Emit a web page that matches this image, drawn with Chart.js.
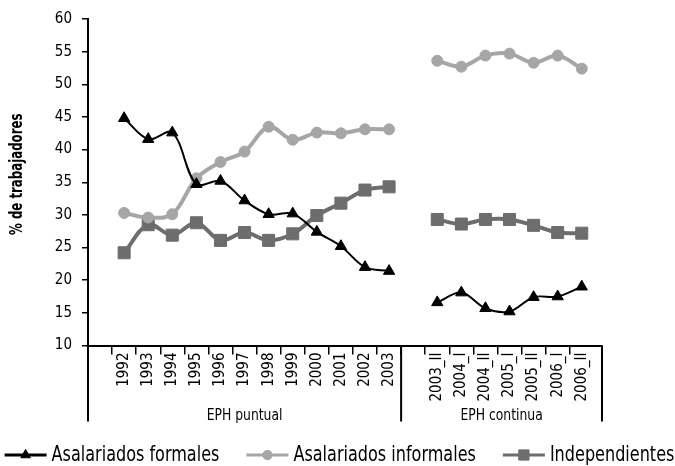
<!DOCTYPE html>
<html>
<head>
<meta charset="utf-8">
<script src="https://cdn.jsdelivr.net/npm/chart.js@4/dist/chart.umd.min.js"></script>
<style>
    html, body { margin: 0; padding: 0; background: #fff; }
    #wrap { width: 675px; height: 466px; }
</style>
</head>
<body>
<div id="wrap"><canvas id="trabajadoresChart"></canvas></div>
<script>
// Categories (blank entries are the gaps at the start of each survey group)
const categories = ['', '1992', '1993', '1994', '1995', '1996', '1997', '1998', '1999', '2000', '2001', '2002', '2003',
    '', '2003_II', '2004_I', '2004_II', '2005_I', '2005_II', '2006_I', '2006_II'];

// Survey groups shown under the axis, and how many categories each one spans
const groupLabels = ['EPH puntual', 'EPH continua'];
const groupSizes = [13, 8];

const yTitle = '% de trabajadores';

// Series values (% de trabajadores)
const formales = [null, 44.8, 41.6, 42.6, 34.7, 35.2, 32.2, 30.1, 30.2, 27.4, 25.2, 22.0, 21.4,
    null, 16.6, 18.1, 15.7, 15.2, 17.4, 17.5, 19.0];
const informales = [null, 30.3, 29.6, 30.1, 35.6, 38.1, 39.7, 43.5, 41.5, 42.6, 42.5, 43.1, 43.1,
    null, 53.6, 52.7, 54.4, 54.7, 53.3, 54.4, 52.4];
const independientes = [null, 24.2, 28.5, 26.9, 28.8, 26.1, 27.3, 26.1, 27.1, 29.9, 31.8, 33.8, 34.3,
    null, 29.3, 28.6, 29.3, 29.3, 28.4, 27.3, 27.2];

const FONT = '"DejaVu Sans Condensed", "DejaVu Sans", sans-serif';

function toPoints(values) {
    return values.map((v, i) => ({ x: i, y: v }));
}

// fillText squeezed horizontally, to get closer to the narrow face of the original
function condensedText(ctx, text, x, y, sx, align, angle) {
    ctx.save();
    ctx.translate(x, y);
    if (angle) ctx.rotate(angle);
    ctx.scale(sx, 1);
    ctx.textAlign = align;
    ctx.textBaseline = 'middle';
    ctx.fillText(text, 0, 0);
    ctx.restore();
}

// Draws the two-level category axis: separators and group names, plus the y title
const groupAxisPlugin = {
    id: 'groupAxis',
    afterDraw(chart) {
        const { ctx, chartArea, scales: { x } } = chart;
        const edges = [chartArea.left];
        let idx = -0.5;
        groupSizes.forEach((n, g) => {
            idx += n;
            edges.push(g === groupSizes.length - 1 ? chartArea.right : x.getPixelForValue(idx));
        });
        const top = chartArea.bottom;
        const bottom = top + 76;
        ctx.save();
        ctx.strokeStyle = '#000';
        ctx.lineWidth = 2;
        edges.forEach(px => {
            ctx.beginPath();
            ctx.moveTo(px, top);
            ctx.lineTo(px, bottom);
            ctx.stroke();
        });
        ctx.fillStyle = '#000';
        ctx.font = '16px ' + FONT;
        groupLabels.forEach((label, g) => {
            condensedText(ctx, label, (edges[g] + edges[g + 1]) / 2, top + 70, 0.86, 'center');
        });
        // y axis title
        ctx.font = 'bold 17px ' + FONT;
        condensedText(ctx, yTitle, 18, (chartArea.top + chartArea.bottom) / 2 - 8, 0.77, 'center', -Math.PI / 2);
        ctx.restore();
    }
};

// Legend with a line sample and marker for each series
const lineLegendPlugin = {
    id: 'lineLegend',
    afterDraw(chart) {
        const ctx = chart.ctx;
        const sampleW = 42, textGap = 5, itemGap = 27, sx = 0.85;
        ctx.save();
        ctx.font = '21px ' + FONT;
        const items = chart.data.datasets.map(ds => ({
            ds: ds,
            w: sampleW + textGap + ctx.measureText(ds.label).width * sx
        }));
        const total = items.reduce((s, it) => s + it.w, 0) + itemGap * (items.length - 1);
        let x = (chart.width - total) / 2 + 2;
        const y = 455;
        items.forEach(({ ds, w }) => {
            ctx.strokeStyle = ds.borderColor;
            ctx.lineWidth = 3;
            ctx.beginPath();
            ctx.moveTo(x, y);
            ctx.lineTo(x + sampleW, y);
            ctx.stroke();
            ctx.fillStyle = ds.pointBackgroundColor;
            ctx.strokeStyle = ds.pointBorderColor;
            ctx.lineWidth = 1;
            Chart.helpers.drawPoint(ctx, {
                pointStyle: ds.pointStyle,
                radius: ds.pointRadius * 0.85,
                rotation: 0,
                borderWidth: 1
            }, x + sampleW / 2, y);
            ctx.fillStyle = '#000';
            condensedText(ctx, ds.label, x + sampleW + textGap, y + 1, sx, 'left');
            x += w + itemGap;
        });
        ctx.restore();
    }
};

const ctx = document.getElementById('trabajadoresChart').getContext('2d');
const chart = new Chart(ctx, {
    type: 'line',
    data: {
        datasets: [{
            label: 'Asalariados formales',
            data: toPoints(formales),
            borderColor: '#000000',
            backgroundColor: '#000000',
            borderWidth: 2,
            pointStyle: 'triangle',
            pointRadius: 6.5,
            pointBackgroundColor: '#000000',
            pointBorderColor: '#000000',
            pointBorderWidth: 1,
            tension: 0.35
        }, {
            label: 'Asalariados informales',
            data: toPoints(informales),
            borderColor: '#a6a6a6',
            backgroundColor: '#a6a6a6',
            borderWidth: 4,
            pointStyle: 'circle',
            pointRadius: 5.5,
            pointBackgroundColor: '#a6a6a6',
            pointBorderColor: '#a6a6a6',
            pointBorderWidth: 1,
            tension: 0.35
        }, {
            label: 'Independientes',
            data: toPoints(independientes),
            borderColor: '#6d6d6d',
            backgroundColor: '#6d6d6d',
            borderWidth: 4,
            pointStyle: 'rect',
            pointRadius: 8.5,
            pointBackgroundColor: '#6d6d6d',
            pointBorderColor: '#6d6d6d',
            pointBorderWidth: 1,
            tension: 0.35
        }]
    },
    options: {
        responsive: true,
        maintainAspectRatio: false,
        animation: false,
        spanGaps: false,
        layout: {
            padding: { top: 16, right: 73, bottom: 0, left: 0 }
        },
        scales: {
            x: {
                type: 'linear',
                min: -0.5,
                max: 20.84,
                afterBuildTicks: function (scale) {
                    scale.ticks = categories.map((c, i) => ({ value: i }));
                },
                afterFit: function (scale) {
                    scale.height = 120.5;
                },
                border: { display: true, color: '#000', width: 2 },
                grid: {
                    offset: true,
                    drawOnChartArea: false,
                    drawTicks: true,
                    tickLength: 9,
                    lineWidth: 1.5,
                    color: function (c) {
                        return c.tick ? '#000' : 'rgba(0,0,0,0)';
                    }
                },
                ticks: {
                    autoSkip: false,
                    minRotation: 90,
                    maxRotation: 90,
                    padding: -2,
                    color: '#000',
                    font: { family: FONT, size: 15 },
                    callback: function (value) {
                        return categories[value] || '';
                    }
                }
            },
            y: {
                min: 10,
                max: 60,
                afterFit: function (scale) {
                    scale.width = 88;
                },
                border: { display: true, color: '#000', width: 2 },
                grid: {
                    drawOnChartArea: false,
                    drawTicks: true,
                    tickLength: 6,
                    lineWidth: 1.5,
                    color: '#000'
                },
                ticks: {
                    stepSize: 5,
                    padding: 10,
                    color: '#000',
                    font: { family: FONT, size: 15 }
                }
            }
        },
        plugins: {
            legend: { display: false },
            tooltip: { enabled: false }
        }
    },
    plugins: [groupAxisPlugin, lineLegendPlugin]
});
</script>
</body>
</html>
